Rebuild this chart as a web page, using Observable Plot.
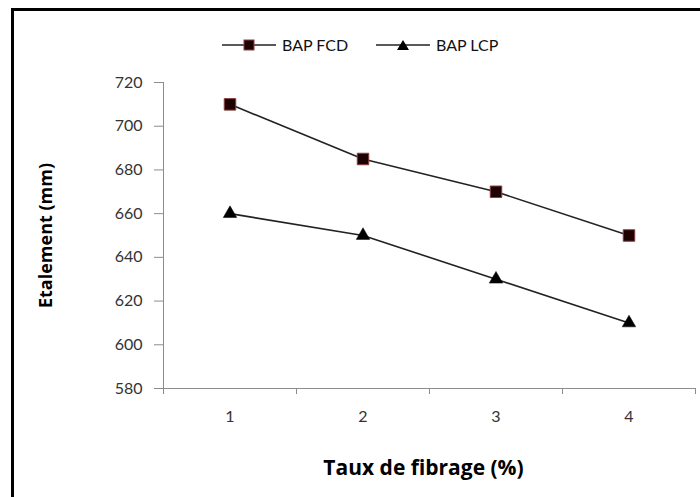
<!DOCTYPE html>
<html>
<head>
<meta charset="utf-8">
<script src="https://cdn.jsdelivr.net/npm/d3@7"></script>
<script src="https://cdn.jsdelivr.net/npm/@observablehq/plot@0.6"></script>
<style>
  html, body { margin: 0; padding: 0; background: #fff; overflow: hidden; }
  #wrap { position: relative; width: 700px; height: 497px; overflow: hidden; font-family: Lato, "Open Sans", sans-serif; }
  #frame { position: absolute; left: 11px; top: 8px; width: 800px; height: 600px; border: 3px solid #000; box-sizing: border-box; pointer-events: none; }
  #legend { position: absolute; top: 35px; left: 222px; display: flex; align-items: center; font-size: 16px; color: #111; }
  #legend .item { display: flex; align-items: center; }
  #legend svg { display: block; margin-right: 6px; }
  #chart { position: absolute; left: 0; top: 0; }
</style>
</head>
<body>
<div id="wrap">
  <div id="chart"></div>
  <div id="legend"></div>
  <div id="frame"></div>
</div>
<script>
// Data
const categories = [1, 2, 3, 4];
const seriesNames = ["BAP FCD", "BAP LCP"];
const fcdValues = [710, 685, 670, 650];
const lcpValues = [660, 650, 630, 610];
const yTicks = [580, 600, 620, 640, 660, 680, 700, 720];
const xBoundaries = [0.5, 1.5, 2.5, 3.5, 4.5];
const xTitle = "Taux de fibrage (%)";
const yTitle = "Etalement (mm)";

const fcd = categories.map((c, i) => ({x: c, y: fcdValues[i], s: seriesNames[0]}));
const lcp = categories.map((c, i) => ({x: c, y: lcpValues[i], s: seriesNames[1]}));

const chart = Plot.plot({
  width: 700,
  height: 497,
  marginLeft: 163,
  marginRight: 5,
  marginTop: 82,
  marginBottom: 109,
  style: { fontFamily: "Lato, 'Open Sans', sans-serif", fontSize: "16px", color: "#333", background: "transparent" },
  x: { domain: [xBoundaries[0], xBoundaries[xBoundaries.length - 1]] },
  y: { domain: [yTicks[0], yTicks[yTicks.length - 1]] },
  marks: [
    Plot.axisY(yTicks, { tickSize: 9, tickPadding: 12, stroke: "#8c8c8c", fill: "#333", fontSize: 16,
      label: yTitle, labelAnchor: "center", labelOffset: 124, labelArrow: "none" }),
    Plot.axisX(xBoundaries, { tickSize: 6, tickFormat: () => "", stroke: "#8c8c8c", label: null }),
    Plot.axisX(categories, { tickSize: 0, tickPadding: 22, fill: "#333", fontSize: 16, tickFormat: d => String(d),
      label: xTitle, labelAnchor: "center", labelOffset: 86, labelArrow: "none" }),
    Plot.ruleX([xBoundaries[0]], { stroke: "#8c8c8c" }),
    Plot.ruleY([yTicks[0]], { stroke: "#8c8c8c" }),
    Plot.line(fcd, { x: "x", y: "y", stroke: "#222", strokeWidth: 1.6 }),
    Plot.line(lcp, { x: "x", y: "y", stroke: "#222", strokeWidth: 1.6 }),
    Plot.dot(fcd, { x: "x", y: "y", symbol: "square", r: 6.5, fill: "#1e0202", stroke: "#8a4040", strokeWidth: 1 }),
    Plot.dot(lcp, { x: "x", y: "y", symbol: "triangle", r: 5, fill: "#000", stroke: "#000", strokeWidth: 0.5 })
  ]
});
// style axis titles bold, strip any arrows
const styleTitle = (sel, size, text, dx) => {
  chart.querySelectorAll(sel).forEach(t => {
    t.textContent = text;
    t.setAttribute("font-weight", "bold");
    t.setAttribute("font-size", size);
    t.setAttribute("font-family", "'Open Sans', Lato, sans-serif");
    t.setAttribute("fill", "#000");
    if (dx) t.setAttribute("dx", dx);
  });
};
styleTitle("[aria-label='y-axis label'] text", "18", yTitle, 0);
styleTitle("[aria-label='x-axis label'] text", "21", xTitle, -6);
document.getElementById("chart").appendChild(chart);

// Legend
const legend = document.getElementById("legend");
const symbols = [
  '<rect x="22" y="1" width="10" height="10" fill="#1e0202" stroke="#8a4040" stroke-width="1"/>',
  '<path d="M27,1 L33,11 L21,11 Z" fill="#000"/>'
];
seriesNames.forEach((name, i) => {
  const item = document.createElement("div");
  item.className = "item";
  item.style.marginRight = i === 0 ? "28px" : "0";
  item.innerHTML = '<svg width="54" height="12"><line x1="0" x2="54" y1="6" y2="6" stroke="#222" stroke-width="1.6"/>' + symbols[i] + '</svg><span>' + name + '</span>';
  legend.appendChild(item);
});
</script>
</body>
</html>
